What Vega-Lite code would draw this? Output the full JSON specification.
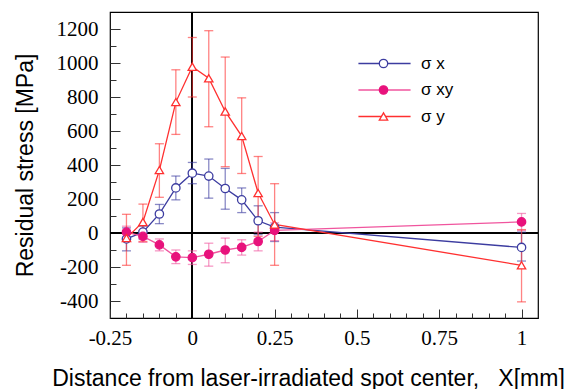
{
  "$schema": "https://vega.github.io/schema/vega-lite/v6.json",
  "width": 428,
  "height": 306,
  "autosize": {"type": "none"},
  "padding": {"left": 110, "top": 12, "right": 48, "bottom": 71},
  "background": "white",
  "config": {
    "font": "Liberation Sans",
    "view": {"stroke": "black", "strokeWidth": 1.2},
    "legend": {"padding": 0}
  },
  "data": {
    "values": [
      {"series": "σ x", "x": -0.2, "v": -35, "lo": -105, "hi": 30},
      {"series": "σ x", "x": -0.15, "v": 5, "lo": -35, "hi": 40},
      {"series": "σ x", "x": -0.1, "v": 112, "lo": 55, "hi": 168},
      {"series": "σ x", "x": -0.05, "v": 265, "lo": 195, "hi": 335},
      {"series": "σ x", "x": 0, "v": 352, "lo": 290, "hi": 415},
      {"series": "σ x", "x": 0.05, "v": 335, "lo": 205, "hi": 435},
      {"series": "σ x", "x": 0.1, "v": 262, "lo": 140, "hi": 380},
      {"series": "σ x", "x": 0.15, "v": 195, "lo": 120, "hi": 265},
      {"series": "σ x", "x": 0.2, "v": 72, "lo": -10, "hi": 160},
      {"series": "σ x", "x": 0.25, "v": 35, "lo": -50, "hi": 120},
      {"series": "σ x", "x": 1, "v": -85, "lo": -165, "hi": 5},
      {"series": "σ xy", "x": -0.2, "v": 5, "lo": -30, "hi": 40},
      {"series": "σ xy", "x": -0.15, "v": -20, "lo": -55, "hi": 15},
      {"series": "σ xy", "x": -0.1, "v": -70, "lo": -105, "hi": -35},
      {"series": "σ xy", "x": -0.05, "v": -140, "lo": -180, "hi": -100},
      {"series": "σ xy", "x": 0, "v": -145, "lo": -185, "hi": -105},
      {"series": "σ xy", "x": 0.05, "v": -125, "lo": -195, "hi": -60},
      {"series": "σ xy", "x": 0.1, "v": -100, "lo": -175, "hi": -30},
      {"series": "σ xy", "x": 0.15, "v": -85, "lo": -130, "hi": -40},
      {"series": "σ xy", "x": 0.2, "v": -50, "lo": -105, "hi": 5},
      {"series": "σ xy", "x": 0.25, "v": 15, "lo": -45, "hi": 60},
      {"series": "σ xy", "x": 1, "v": 65, "lo": 15, "hi": 115},
      {"series": "σ y", "x": -0.2, "v": -30, "lo": -190, "hi": 110},
      {"series": "σ y", "x": -0.15, "v": 65, "lo": -50, "hi": 170},
      {"series": "σ y", "x": -0.1, "v": 370, "lo": 210, "hi": 525},
      {"series": "σ y", "x": -0.05, "v": 770, "lo": 580, "hi": 960},
      {"series": "σ y", "x": 0, "v": 978, "lo": 800, "hi": 1150},
      {"series": "σ y", "x": 0.05, "v": 910, "lo": 625, "hi": 1190},
      {"series": "σ y", "x": 0.1, "v": 715, "lo": 390, "hi": 1035},
      {"series": "σ y", "x": 0.15, "v": 570, "lo": 350, "hi": 795},
      {"series": "σ y", "x": 0.2, "v": 235, "lo": -20, "hi": 450},
      {"series": "σ y", "x": 0.25, "v": 50, "lo": -190, "hi": 290},
      {"series": "σ y", "x": 1, "v": -190, "lo": -405, "hi": 20}
    ]
  },
  "resolve": {"axis": {"x": "independent", "y": "independent"}},
  "layer": [
    {
      "mark": {"type": "rule", "color": "black", "strokeWidth": 1},
      "encoding": {"x": {"datum": 0, "type": "quantitative", "axis": null}}
    },
    {
      "mark": {"type": "rule", "color": "black", "strokeWidth": 1},
      "encoding": {"y": {"datum": 0, "type": "quantitative", "axis": null}}
    },
    {
      "mark": {"type": "errorbar", "ticks": true, "size": 9, "thickness": 1.3, "opacity": 0.6},
      "encoding": {
        "x": {
          "field": "x", "type": "quantitative",
          "scale": {"domain": [-0.25, 1.05], "nice": false, "zero": false},
          "axis": {"orient": "bottom", "values": [-0.2, -0.15, -0.1, -0.05, 0.05, 0.1, 0.15, 0.2, 0.3, 0.35, 0.4, 0.45, 0.55, 0.6, 0.65, 0.7, 0.8, 0.85, 0.9, 0.95], "labels": false, "tickSize": -5, "tickColor": "#333", "domain": false, "grid": false, "title": null}
        },
        "y": {
          "field": "lo", "type": "quantitative",
          "scale": {"domain": [-500, 1300], "nice": false, "zero": false},
          "axis": {"orient": "left", "values": [-300, -100, 100, 300, 500, 700, 900, 1100], "labels": false, "tickSize": -6, "tickColor": "#333", "domain": false, "grid": false, "title": null}
        },
        "y2": {"field": "hi"},
        "color": {
          "field": "series", "type": "nominal",
          "scale": {"domain": ["σ x", "σ xy", "σ y"], "range": ["#3c3ca0", "#f0559e", "#ff3030"]},
          "legend": {"orient": "none", "legendX": 266, "legendY": 43, "title": null, "symbolType": "M-4,0H4", "symbolSize": 170, "symbolStrokeWidth": 1.5, "symbolOpacity": 1, "rowPadding": 8.5, "labelExpr": "' '", "labelFontSize": 17, "labelBaseline": "middle", "padding": 0}
        }
      }
    },
    {
      "mark": {"type": "line", "strokeWidth": 1.3},
      "encoding": {
        "x": {
          "field": "x", "type": "quantitative",
          "scale": {"domain": [-0.25, 1.05], "nice": false, "zero": false},
          "axis": {"orient": "bottom", "values": [-0.25, 0, 0.25, 0.5, 0.75, 1], "labelExpr": "'' + datum.value", "tickSize": -9, "tickColor": "#333", "labelPadding": 35, "labelBaseline": "alphabetic", "labelFont": "Liberation Serif", "labelFontSize": 21, "labelColor": "black", "labelFlush": false, "labelOverlap": false, "domain": false, "grid": false,
            "title": "Distance from laser-irradiated spot center,\u00a0\u00a0\u00a0X[mm]", "titleFont": "Liberation Sans", "titleFontSize": 23, "titleFontWeight": "normal", "titleColor": "black", "titleX": 198, "titleY": 67, "titleBaseline": "alphabetic"}
        },
        "y": {
          "field": "v", "type": "quantitative",
          "scale": {"domain": [-500, 1300], "nice": false, "zero": false},
          "axis": {"orient": "left", "values": [-400, -200, 0, 200, 400, 600, 800, 1000, 1200], "labelExpr": "'' + datum.value", "tickSize": -10, "tickColor": "#333", "labelPadding": 22, "labelFont": "Liberation Serif", "labelFontSize": 21, "labelColor": "black", "labelFlush": false, "labelOverlap": false, "domain": false, "grid": false,
            "title": "Residual stress [MPa]", "titleFont": "Liberation Sans", "titleFontSize": 23, "titleFontWeight": "normal", "titleColor": "black", "titleX": -78, "titleBaseline": "alphabetic"}
        },
        "color": {
          "field": "series", "type": "nominal",
          "scale": {"domain": ["σ x", "σ xy", "σ y"], "range": ["#3c3ca0", "#f0559e", "#ff3030"]},
          "legend": {"orient": "none", "legendX": 266, "legendY": 43, "title": null, "symbolType": "M-4,0H4", "symbolSize": 170, "symbolStrokeWidth": 1.5, "symbolOpacity": 1, "rowPadding": 8.5, "labelExpr": "' '", "labelFontSize": 17, "labelBaseline": "middle", "padding": 0}
        }
      }
    },
    {
      "mark": {"type": "point", "filled": true, "size": 70, "strokeWidth": 1.3, "opacity": 1},
      "encoding": {
        "x": {"field": "x", "type": "quantitative", "axis": null},
        "y": {"field": "v", "type": "quantitative", "axis": null},
        "shape": {
          "field": "series", "type": "nominal",
          "scale": {"range": ["circle", "circle", "triangle-up"]},
          "legend": {"orient": "none", "legendX": 265, "legendY": 43, "title": null, "symbolSize": 70, "symbolStrokeWidth": 1.3, "rowPadding": 8.5, "labelOffset": 29, "labelFont": "Liberation Sans", "labelFontSize": 17, "labelColor": "black", "labelBaseline": "middle", "padding": 0}
        },
        "stroke": {
          "field": "series", "type": "nominal",
          "scale": {"range": ["#3c3ca0", "#e8127c", "#ff3030"]},
          "legend": {"orient": "none", "legendX": 265, "legendY": 43, "title": null, "symbolSize": 70, "symbolStrokeWidth": 1.3, "rowPadding": 8.5, "labelOffset": 29, "labelFont": "Liberation Sans", "labelFontSize": 17, "labelColor": "black", "labelBaseline": "middle", "padding": 0}
        },
        "fill": {
          "field": "series", "type": "nominal",
          "scale": {"range": ["white", "#e8127c", "white"]},
          "legend": {"orient": "none", "legendX": 265, "legendY": 43, "title": null, "symbolSize": 70, "symbolStrokeWidth": 1.3, "rowPadding": 8.5, "labelOffset": 29, "labelFont": "Liberation Sans", "labelFontSize": 17, "labelColor": "black", "labelBaseline": "middle", "padding": 0}
        }
      }
    }
  ]
}
